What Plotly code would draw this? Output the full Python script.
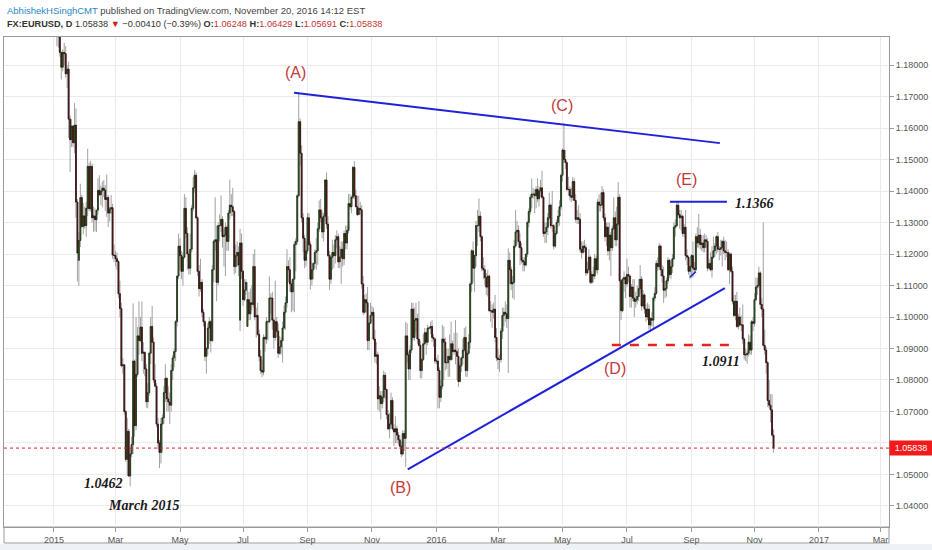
import pandas as pd
import plotly.graph_objects as go

# Daily EURUSD prices in pips above 1.0000 (1933 -> 1.1933), one inner list per month (2015-01 .. 2016-11)
opens = [
 [2100,2100,1950,1933,1890,1840,1793,1840,1836,1772,1787,1628,1563,1606,1553,1609,1365,1180,1243,1379,1287,1321],
 [1290,1345,1478,1344,1478,1315,1321,1309,1339,1402,1388,1400,1409,1403,1373,1379,1330,1343,1347,1197],
 [1195,1185,1176,1074,1027,845,848,700,548,637,495,565,595,860,655,818,940,925,968,885,888,835],
 [731,760,885,970,920,800,780,660,600,570,660,680,760,805,740,730,720,830,870,890,985,1130],
 [1225,1195,1145,1190,1345,1265,1200,1155,1215,1345,1410,1450,1315,1145,1090,1110,1015,985,875,900,965],
 [985,925,1150,1240,1245,1110,1290,1290,1310,1255,1260,1285,1240,1330,1355,1350,1335,1160,1195,1205,990,1235],
 [1145,1055,1085,970,1055,1010,1045,1040,1160,1000,1005,945,875,830,825,935,930,985,985,1060,1060,990,935],
 [985,955,885,905,925,965,1015,1045,1160,1150,1105,1080,1120,1230,1240,1385,1620,1520,1315,1250,1180],
 [1210,1315,1230,1120,1150,1170,1205,1210,1280,1340,1315,1270,1320,1435,1295,1195,1120,1190,1205,1195,1245,1255],
 [1175,1190,1215,1185,1265,1235,1275,1360,1350,1380,1475,1385,1350,1325,1345,1340,1105,1015,1055,1045,925,980],
 [1005,1015,930,875,880,740,750,725,745,815,770,690,645,660,735,645,635,645,625,610,590],
 [565,630,615,940,880,835,895,1025,935,990,995,930,910,830,865,915,950,920,965,965,970,935,930],
 [860,860,830,745,780,930,920,855,855,875,865,915,890,895,890,875,795,845,870,895,935],
 [830,885,920,1105,1210,1155,1195,1290,1290,1320,1255,1155,1150,1125,1095,1130,1020,1020,1015,1025,935],
 [870,865,865,955,1005,1015,1010,995,1180,1150,1105,1110,1225,1270,1275,1240,1220,1180,1175,1165,1200,1300,1335],
 [1380,1390,1390,1385,1405,1375,1400,1410,1380,1265,1270,1285,1315,1355,1290,1290,1225,1265,1300,1320,1350],
 [1450,1530,1500,1490,1405,1405,1385,1380,1430,1370,1310,1315,1310,1215,1205,1225,1220,1140,1150,1190,1110,1135],
 [1130,1185,1150,1365,1355,1355,1395,1315,1255,1285,1210,1260,1220,1280,1315,1245,1295,1380,1115,1020,1120,1125],
 [1105,1135,1130,1065,1095,1060,1050,1055,1065,1090,1120,1035,1070,1025,1000,1025,975,995,990,1060,1075],
 [1170,1160,1225,1150,1130,1085,1090,1115,1180,1135,1160,1185,1285,1290,1355,1325,1315,1320,1265,1285,1195,1190,1145],
 [1160,1195,1155,1150,1255,1235,1260,1230,1235,1220,1245,1240,1155,1170,1150,1190,1210,1225,1255,1215,1215,1220],
 [1240,1210,1205,1205,1150,1200,1145,1050,1005,1050,970,1000,975,975,930,880,880,885,920,895,985],
 [980,1055,1095,1100,1140,1040,1025,910,895,855,735,720,705,625],
]
highs = [
 [2125,2105,1960,1960,1897,1842,1850,1870,1860,1800,1811,1640,1628,1610,1679,1662,1375,1270,1423,1388,1362,1350],
 [1365,1534,1490,1496,1487,1350,1345,1335,1440,1450,1418,1430,1435,1419,1452,1387,1350,1387,1359,1230],
 [1210,1205,1180,1115,1045,870,850,705,680,645,585,620,1043,865,1000,968,1050,1000,1050,920,890,850],
 [790,890,1000,1035,935,850,790,680,610,680,690,780,850,810,780,760,850,880,900,990,1130,1265],
 [1250,1210,1205,1390,1380,1285,1210,1265,1355,1445,1467,1460,1320,1165,1185,1120,1025,990,905,980,1000],
 [990,1165,1245,1380,1290,1300,1325,1386,1320,1280,1300,1290,1340,1436,1390,1410,1340,1230,1240,1225,1280,1265],
 [1150,1120,1120,1110,1080,1090,1100,1200,1215,1030,1045,960,895,865,945,940,1000,990,1129,1075,1080,995,1115],
 [1000,980,940,935,985,1035,1065,1215,1180,1190,1115,1120,1240,1250,1390,1714,1630,1545,1330,1260,1240],
 [1330,1330,1240,1175,1170,1215,1250,1300,1370,1375,1335,1330,1437,1459,1320,1210,1200,1245,1230,1260,1275,1265],
 [1225,1240,1240,1275,1290,1290,1390,1390,1385,1480,1495,1405,1385,1385,1365,1355,1130,1070,1075,1095,985,1045],
 [1035,1030,960,920,890,780,765,765,830,825,770,705,695,760,745,660,685,655,635,625,605],
 [640,640,985,980,890,910,1045,1045,1030,1045,1010,1050,925,870,945,965,955,975,970,985,990,945,935],
 [870,880,840,800,975,970,935,900,900,945,985,925,950,990,950,900,855,875,930,965,970],
 [895,945,1110,1215,1240,1195,1305,1340,1376,1335,1260,1190,1165,1140,1150,1135,1050,1040,1045,1070,965],
 [900,880,965,1030,1030,1050,1040,1218,1205,1160,1130,1245,1340,1305,1290,1265,1235,1190,1190,1200,1305,1345,1390],
 [1440,1410,1405,1415,1440,1415,1435,1464,1385,1300,1300,1330,1395,1360,1400,1295,1275,1310,1340,1370,1455],
 [1535,1616,1530,1495,1445,1415,1410,1445,1440,1390,1340,1355,1330,1240,1240,1245,1230,1175,1215,1195,1145,1160],
 [1200,1195,1375,1390,1395,1416,1405,1330,1300,1300,1300,1270,1290,1380,1335,1350,1428,1390,1120,1125,1145,1130],
 [1185,1160,1135,1105,1120,1120,1080,1100,1120,1165,1130,1085,1075,1040,1045,1040,1000,1015,1065,1095,1180],
 [1190,1234,1230,1165,1160,1115,1125,1190,1185,1180,1200,1300,1310,1366,1365,1340,1340,1325,1295,1340,1215,1195,1165],
 [1200,1240,1175,1265,1285,1327,1280,1260,1260,1265,1260,1250,1185,1205,1225,1255,1235,1260,1270,1225,1245,1245],
 [1255,1245,1240,1215,1205,1205,1160,1070,1070,1080,1010,1030,1005,1040,935,900,895,945,940,990,1000],
 [1075,1125,1125,1160,1145,1060,1300,960,905,860,800,755,755,643],
]
lows = [
 [2085,2000,1860,1855,1826,1754,1780,1800,1760,1727,1568,1460,1540,1540,1520,1315,1113,1098,1222,1283,1262,1280],
 [1255,1320,1336,1335,1300,1270,1272,1270,1325,1385,1355,1348,1380,1337,1318,1286,1303,1327,1185,1175],
 [1160,1150,1060,1000,840,820,690,540,495,495,462,555,565,620,640,810,880,920,860,820,812,712],
 [710,750,850,920,790,780,650,580,520,535,570,660,730,700,700,660,700,800,840,860,970,1120],
 [1150,1120,1100,1185,1250,1150,1135,1135,1205,1335,1395,1310,1130,1065,1080,1000,970,860,820,880,915],
 [887,920,1110,1210,1050,1100,1240,1270,1220,1160,1130,1210,1210,1310,1320,1320,1135,1140,1160,1130,955,1120],
 [1035,1050,1070,970,990,990,1020,1030,990,935,940,860,820,809,815,890,915,925,980,1010,960,900,925],
 [935,870,880,880,855,960,960,1030,1110,1080,1015,1020,1015,1145,1230,1380,1480,1300,1205,1155,1160],
 [1200,1225,1087,1100,1120,1155,1150,1165,1270,1300,1250,1240,1305,1280,1190,1085,1105,1150,1155,1170,1220,1155],
 [1155,1105,1160,1165,1215,1215,1265,1340,1330,1375,1375,1350,1320,1325,1325,1090,1005,1010,1015,895,895,980],
 [985,925,855,850,705,700,675,710,730,740,675,640,615,655,640,590,600,600,595,580,555],
 [560,575,524,855,800,800,885,925,925,950,915,905,805,805,860,910,880,910,960,945,920,905,850],
 [850,710,710,730,770,800,830,835,810,810,860,865,880,850,800,778,795,825,850,890,810],
 [810,880,900,1080,1110,1080,1160,1225,1270,1240,1145,1120,1100,1070,1065,1015,985,965,995,920,860],
 [835,825,855,930,970,985,965,822,1105,1085,1060,1055,1220,1230,1220,1165,1170,1145,1145,1160,1190,1285,1325],
 [1345,1375,1330,1345,1365,1350,1380,1375,1255,1235,1235,1260,1310,1280,1270,1215,1220,1260,1285,1290,1340],
 [1430,1490,1470,1400,1385,1370,1365,1370,1370,1300,1295,1295,1205,1185,1200,1205,1130,1135,1150,1105,1105,1110],
 [1120,1140,1135,1335,1335,1345,1305,1240,1225,1195,1180,1130,1210,1275,1225,1225,1290,912,990,1015,1080,1060],
 [1095,1110,1030,1030,1050,1000,1030,1040,1050,1075,1020,1030,1010,985,990,960,952,970,960,1050,1070],
 [1145,1150,1130,1110,1045,1060,1065,1105,1125,1120,1140,1180,1255,1285,1320,1280,1275,1255,1255,1180,1165,1135,1120],
 [1125,1125,1140,1145,1220,1220,1215,1210,1205,1205,1220,1145,1150,1145,1125,1185,1190,1200,1205,1180,1195,1160],
 [1200,1180,1190,1145,1105,1140,1040,1000,990,965,960,970,955,915,865,860,852,875,880,880,955],
 [970,1050,1070,1090,1025,1000,905,880,820,715,710,665,620,569],
]
closes = [
 [2100,2002,1933,1890,1840,1793,1840,1836,1772,1787,1628,1563,1606,1553,1609,1365,1203,1243,1379,1287,1321,1290],
 [1345,1478,1344,1478,1315,1321,1309,1339,1402,1388,1400,1409,1403,1373,1379,1330,1343,1347,1197,1195],
 [1185,1176,1074,1027,845,848,700,548,637,495,565,595,860,655,818,940,925,968,885,888,835,731],
 [760,885,970,920,800,780,660,600,570,660,680,760,805,740,730,720,830,870,890,985,1130,1225],
 [1195,1145,1190,1345,1265,1200,1155,1215,1345,1410,1450,1315,1145,1090,1110,1015,985,875,900,965,985],
 [925,1150,1240,1245,1110,1290,1290,1310,1255,1260,1285,1240,1330,1355,1350,1335,1160,1195,1205,1165,1235,1145],
 [1055,1085,1110,1055,1010,1045,1040,1160,1000,1005,945,875,830,825,935,930,985,985,1060,1060,990,935,985],
 [955,885,905,925,965,1015,1045,1160,1150,1105,1080,1120,1230,1240,1385,1620,1520,1315,1250,1180,1210],
 [1315,1230,1120,1150,1170,1205,1210,1280,1340,1315,1270,1320,1435,1295,1195,1120,1190,1205,1195,1245,1255,1175],
 [1190,1215,1185,1265,1235,1275,1360,1350,1380,1475,1385,1350,1325,1345,1340,1105,1015,1055,1045,925,980,1005],
 [1015,930,875,880,740,750,725,745,815,770,690,645,660,735,645,635,645,625,610,590,565],
 [630,615,940,880,835,895,1025,935,990,995,930,910,830,865,915,950,920,965,965,970,935,930,860],
 [860,830,745,780,930,920,855,855,875,865,915,890,895,890,875,795,845,870,895,935,830],
 [885,920,1105,1210,1155,1195,1290,1290,1320,1255,1155,1150,1125,1095,1130,1020,1020,1015,1025,935,870],
 [865,865,955,1005,1015,1010,995,1180,1150,1105,1110,1225,1270,1275,1240,1220,1180,1175,1165,1200,1300,1335,1380],
 [1390,1390,1385,1405,1375,1400,1410,1380,1265,1270,1285,1315,1355,1290,1290,1225,1265,1300,1320,1350,1450],
 [1530,1500,1490,1405,1405,1385,1380,1430,1370,1310,1315,1310,1215,1205,1225,1220,1140,1150,1190,1110,1135,1130],
 [1185,1150,1365,1355,1355,1395,1315,1255,1285,1210,1260,1220,1280,1315,1245,1295,1380,1115,1020,1120,1125,1105],
 [1135,1130,1065,1095,1060,1050,1055,1065,1090,1120,1035,1070,1025,1000,1025,975,995,990,1060,1075,1170],
 [1160,1225,1150,1130,1085,1090,1115,1180,1135,1160,1185,1285,1290,1355,1325,1315,1320,1265,1285,1195,1190,1145,1160],
 [1195,1155,1150,1255,1235,1260,1230,1235,1220,1245,1240,1155,1170,1150,1190,1210,1225,1255,1215,1215,1220,1240],
 [1210,1205,1205,1150,1200,1145,1050,1005,1050,970,1000,975,975,930,880,880,885,920,895,985,980],
 [1055,1095,1100,1140,1040,1025,910,895,855,735,720,705,625,584],
]

tick_months = ["2015-01", "2015-03", "2015-05", "2015-07", "2015-09", "2015-11", "2016-01",
               "2016-03", "2016-05", "2016-07", "2016-09", "2016-11", "2017-01", "2017-03"]
tick_labels = ["2015", "Mar", "May", "Jul", "Sep", "Nov", "2016",
               "Mar", "May", "Jul", "Sep", "Nov", "2017", "Mar"]
price_ticks = [1.04, 1.05, 1.06, 1.07, 1.08, 1.09, 1.10, 1.11, 1.12, 1.13, 1.14, 1.15, 1.16, 1.17, 1.18]
last_price = 1.05838
header_ohlc = ["1.06248", "1.06429", "1.05691", "1.05838"]

# ---- consistency check of the month lists against the trading calendar
days = pd.bdate_range("2015-01-01", "2016-11-18")
per_month = days.to_period("M").value_counts().sort_index()
problems = []
for i, (per, n) in enumerate(per_month.items()):
    for name, lst in (("opens", opens), ("highs", highs), ("lows", lows), ("closes", closes)):
        if len(lst[i]) != n:
            problems.append(f"{name} {per}: {len(lst[i])} != {n}")
if problems:
    raise ValueError("; ".join(problems))

def flat(l):
    return [1 + v / 10000 for m in l for v in m]

o, h, lo, c = flat(opens), flat(highs), flat(lows), flat(closes)
x = list(range(len(days)))

ext = pd.bdate_range("2015-01-01", "2017-03-31")
ext_m = list(ext.strftime("%Y-%m"))
tick_pos = [ext_m.index(m) for m in tick_months]

fig = go.Figure()
# wicks (grey)
fig.add_trace(go.Candlestick(
    x=x, open=o, high=h, low=lo, close=c, hoverinfo="skip",
    increasing=dict(line=dict(color="#8a8a8a", width=0.8), fillcolor="#8a8a8a"),
    decreasing=dict(line=dict(color="#8a8a8a", width=0.8), fillcolor="#8a8a8a"),
    whiskerwidth=0))
# bodies (outlined)
body_hi = [max(a, b) for a, b in zip(o, c)]
body_lo = [min(a, b) for a, b in zip(o, c)]
fig.add_trace(go.Candlestick(
    x=x, open=o, high=body_hi, low=body_lo, close=c, hoverinfo="skip",
    increasing=dict(line=dict(color="#17200f", width=0.7), fillcolor="#3c9c2c"),
    decreasing=dict(line=dict(color="#220a0a", width=0.7), fillcolor="#9a1a1a"),
    whiskerwidth=0))

blue = "#1f22d8"
shapes = [
    dict(type="line", xref="x", yref="y", x0=163.8, y0=1.1712, x1=454.4, y1=1.1552,
         line=dict(color=blue, width=2)),
    dict(type="line", xref="x", yref="y", x0=241.4, y0=1.05165, x1=457.8, y1=1.1092,
         line=dict(color=blue, width=2)),
    dict(type="line", xref="x", yref="y", x0=420.3, y0=1.1366, x1=459.2, y1=1.1366,
         line=dict(color=blue, width=2)),
    dict(type="line", xref="x", yref="y", x0=433.9, y0=1.1126, x1=438.0, y1=1.1144,
         line=dict(color=blue, width=1.5)),
    dict(type="line", xref="x", yref="y", x0=380.7, y0=1.0911, x1=463.3, y1=1.0911,
         line=dict(color="#e8221e", width=2.5, dash="dash")),
    dict(type="line", xref="paper", yref="y", x0=0, y0=last_price, x1=1, y1=last_price,
         line=dict(color="#e02020", width=1, dash="dot")),
    # x-axis strip frame and bottom band
    dict(type="rect", xref="paper", yref="paper", x0=0, x1=1, y0=-0.0327, y1=0,
         line=dict(color="#9a9a9a", width=1), fillcolor="rgba(0,0,0,0)", layer="below"),
    dict(type="rect", xref="paper", yref="paper", x0=-0.01, x1=1.06, y0=-0.06, y1=-0.0347,
         line=dict(width=0), fillcolor="#eef1f5", layer="below"),
]

red_lbl = "#c23b3b"
serif = "Liberation Serif"
anns = []
for txt, ax, ay in (("(A)", 165.0, 1.1776), ("(B)", 236.7, 1.0459), ("(C)", 346.4, 1.1670),
                    ("(D)", 382.7, 1.0835), ("(E)", 431.7, 1.1435)):
    anns.append(dict(text=txt, x=ax, y=ay, xref="x", yref="y", showarrow=False,
                     font=dict(family="Liberation Sans", size=16, color=red_lbl)))
for txt, ax, ay, anc in (("1.1366", 463.3, 1.1360, "left"), ("1.0911", 440.7, 1.0860, "left"),
                         ("1.0462", 48.3, 1.0473, "right"), ("March 2015", 35.4, 1.0403, "left")):
    anns.append(dict(text=f"<b><i>{txt}</i></b>", x=ax, y=ay, xref="x", yref="y", xanchor=anc,
                     showarrow=False, font=dict(family=serif, size=14, color="#1a1a1a")))

hdr_red = "#c83232"
line1 = ('<span style="color:#2a86c6">AbhishekHSinghCMT</span>'
         ' published on TradingView.com, November 20, 2016 14:12 EST')
line2 = ('<b>FX:EURUSD, D</b> 1.05838 <span style="color:#d01e1e">▼</span> −0.00410 (−0.39%) '
         f'<b>O:</b><span style="color:{hdr_red}">{header_ohlc[0]}</span> '
         f'<b>H:</b><span style="color:{hdr_red}">{header_ohlc[1]}</span> '
         f'<b>L:</b><span style="color:{hdr_red}">{header_ohlc[2]}</span> '
         f'<b>C:</b><span style="color:{hdr_red}">{header_ohlc[3]}</span>')
anns.append(dict(text=line1, x=0.001, y=1.0551, xref="paper", yref="paper", xanchor="left",
                 yanchor="middle", showarrow=False, font=dict(family="Liberation Sans", size=9.5, color="#444")))
anns.append(dict(text=line2, x=0.001, y=1.0265, xref="paper", yref="paper", xanchor="left",
                 yanchor="middle", showarrow=False, font=dict(family="Liberation Sans", size=9.2, color="#333")))
anns.append(dict(text="1.05838", x=1, y=last_price, xref="paper", yref="y", xanchor="left",
                 yanchor="middle", showarrow=False, bgcolor="#f21a1a", width=40, height=12,
                 borderpad=1, font=dict(family="Liberation Sans", size=9, color="white")))

fig.update_layout(
    width=932, height=550, margin=dict(l=4, r=43, t=37, b=23),
    paper_bgcolor="white", plot_bgcolor="white", showlegend=False, hovermode=False,
    boxgap=0.12, shapes=shapes, annotations=anns,
    xaxis=dict(range=[-34.1, 569.8], tickvals=tick_pos, ticktext=tick_labels,
               showgrid=True, gridcolor="#ebebeb", gridwidth=1, zeroline=False,
               showline=True, linecolor="#9a9a9a", mirror=True, ticks="outside", ticklen=4,
               tickcolor="#9a9a9a", tickfont=dict(family="Liberation Sans", size=9, color="#555"),
               rangeslider=dict(visible=False), fixedrange=True),
    yaxis=dict(range=[1.03333, 1.18889], side="right", tickvals=price_ticks,
               ticktext=[("" if abs(v - 1.06) < 1e-9 else f"{v:.5f}") for v in price_ticks],
               showgrid=True, gridcolor="#ebebeb", gridwidth=1, zeroline=False,
               showline=True, linecolor="#9a9a9a", mirror=True, ticks="outside", ticklen=4,
               tickcolor="#9a9a9a", tickfont=dict(family="Liberation Sans", size=9, color="#555"),
               fixedrange=True),
)

fig.write_html("out.html", config={"displayModeBar": False},
               post_script="document.body.style.margin='0';document.body.style.overflow='hidden';")
